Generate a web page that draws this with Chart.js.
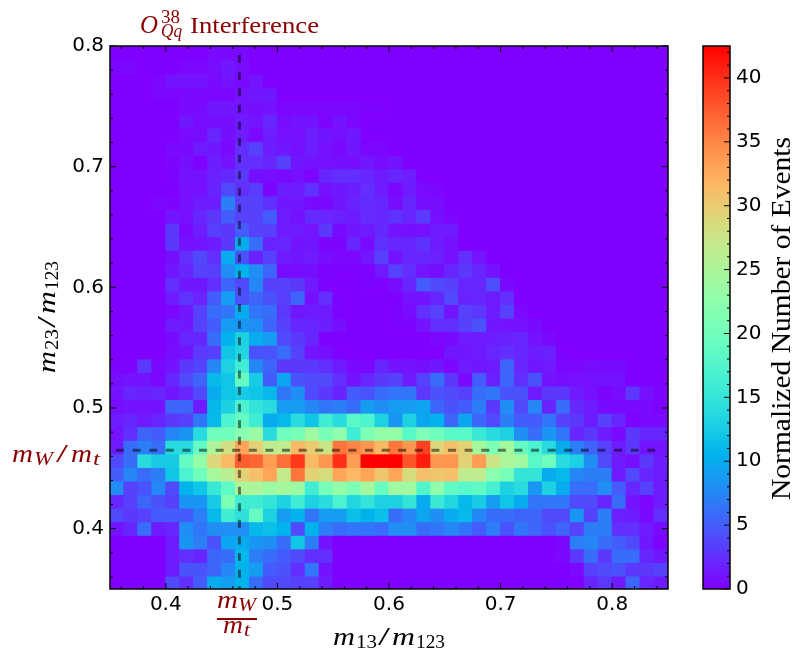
<!DOCTYPE html>
<html>
<head>
<meta charset="utf-8">
<title>Interference</title>
<script src="https://cdn.jsdelivr.net/npm/chart.js@4/dist/chart.umd.min.js"></script>
<style>
  body { margin: 0; background: #fff; }
  canvas { position: absolute; left: 0; top: 0; }
</style>
</head>
<body>
<canvas id="heat" width="807" height="662"></canvas>
<canvas id="cbar" width="807" height="662"></canvas>
<script>
const xRange = [0.35, 0.85];
const yRange = [0.35, 0.8];
const colorRange = [0, 42.5];

const xTickLabels = [0.4, 0.5, 0.6, 0.7, 0.8];
const yTickLabels = [0.4, 0.5, 0.6, 0.7, 0.8];
const xMinorTicks = [0.36, 0.38, 0.42, 0.44, 0.46, 0.48, 0.52, 0.54, 0.56, 0.58, 0.62, 0.64, 0.66, 0.68, 0.72, 0.74, 0.76, 0.78, 0.82, 0.84];
const yMinorTicks = [0.36, 0.38, 0.42, 0.44, 0.46, 0.48, 0.52, 0.54, 0.56, 0.58, 0.62, 0.64, 0.66, 0.68, 0.72, 0.74, 0.76, 0.78];
const colorTickLabels = [0, 5, 10, 15, 20, 25, 30, 35, 40];
const colorMinorTicks = [1, 2, 3, 4, 6, 7, 8, 9, 11, 12, 13, 14, 16, 17, 18, 19, 21, 22, 23, 24, 26, 27, 28, 29, 31, 32, 33, 34, 36, 37, 38, 39, 41, 42];

const guideX = [0.466, 0.466];
const guideXy = [0.7925, 0.35];
const guideY = [0.465, 0.465];
const guideYx = [0.3554, 0.84];

// event counts per bin, first row is the top of the plot (y = 0.8)
const counts = [
  [0,0,0,0,0,0,0,.5,.5,.5, 0,0,0,0,0,0,0,0,0,0, 0,0,0,0,0,0,0,0,0,0, 0,0,0,0,0,0,0,0,0,0],
  [.3,.3,0,0,0,.3,.3,.7,1.3,.7, 0,0,0,0,0,0,0,0,0,0, 0,0,0,0,0,0,0,0,0,0, 0,0,0,0,0,0,0,0,0,0],
  [0,0,0,.3,1,1,1,.5,1,.5, 1,0,0,0,0,0,0,0,0,0, 0,0,0,0,0,0,0,0,0,0, 0,0,0,0,0,0,0,0,0,0],
  [0,0,0,.3,.3,.5,.3,.3,.3,1, 1.3,1.3,0,0,0,0,0,0,0,0, 0,0,0,0,0,0,0,0,0,0, 0,0,0,0,0,0,0,0,0,0],
  [0,0,0,0,0,.5,.5,1.3,1.3,1, .7,1,.3,.3,.3,.3,.3,.3,.2,.1, 0,0,0,0,0,0,0,0,0,0, 0,0,0,0,0,0,0,0,0,0],
  [0,0,0,0,0,1.2,.6,.8,.8,1.5, 1,2,.7,1,1,.2,1,.3,0,0, 0,0,0,0,0,0,0,0,0,0, 0,0,0,0,0,0,0,0,0,0],
  [0,0,0,0,0,.5,.7,2,.8,1.5, .3,1.6,.9,.9,1.7,1.1,.8,1.3,0,0, 0,0,0,0,0,0,0,0,0,0, 0,0,0,0,0,0,0,0,0,0],
  [0,0,0,0,.4,.5,1.4,1.3,.5,2.5, 3.5,1.5,1.2,.9,1.6,.9,.4,1.2,.3,.3, 0,0,0,0,0,0,0,0,0,0, 0,0,0,0,0,0,0,0,0,0],
  [0,0,0,0,.2,.8,.1,1.6,1,2.5, 2.5,2,3.5,1.2,1,.9,.8,.7,1.2,.7, 1,0,0,0,0,0,0,0,0,0, 0,0,0,0,0,0,0,0,0,0],
  [0,0,0,0,.1,1,.9,1.7,2.2,3, .8,.8,.4,.8,.2,2,2.5,2.5,2,1.5, 2,1.6,0,0,0,0,0,0,0,0, 0,0,0,0,0,0,0,0,0,0],
  [0,0,0,0,0,.9,.9,1.8,4,2.5, 3.2,.2,1.6,1.5,2.6,.9,1.3,1.6,2.5,1.5, .3,1.4,.5,.3,0,0,0,0,0,0, 0,0,0,0,0,0,0,0,0,0],
  [0,0,0,.3,.2,.9,1.5,1.6,7,3.5, 3.5,2.6,1.3,1.3,.6,.4,1.2,1.8,2.3,2, .7,2,.7,.7,0,0,0,0,0,0, 0,0,0,0,0,0,0,0,0,0],
  [0,0,0,0,1,.9,2,3,5,3.5, 3.5,5,1.5,.9,2.3,2,1.7,1.5,2.3,2, 2.7,2,3.2,.8,.2,0,0,0,0,0, 0,0,0,0,0,0,0,0,0,0],
  [0,0,0,0,3,.4,1.6,3.4,3,5, 3.5,3.5,1.4,1.4,1,3,.6,1.2,1.4,2.2, 1,.8,.9,1.5,1.4,0,0,0,0,0, 0,0,0,0,0,0,0,0,0,0],
  [0,0,0,0,3,1,1,1.5,3,10, 6,1.8,2,1.1,1.2,.2,.2,2,.5,2.6, 2,2,2.7,1.5,.9,0,0,0,0,0, 0,0,0,0,0,0,0,0,0,0],
  [0,0,0,0,.8,2.5,4,2.5,10,4.5, 1.7,3.5,1.5,1.2,1.4,.7,.3,.3,1.2,3.5, 1,2,2,1.7,.9,2.5,1,0,0,0, 0,0,0,0,0,0,0,0,0,0],
  [0,0,0,0,1.2,2,3.5,3.4,8,10.5, 8,5.5,.6,.6,.7,.1,.1,.1,.1,1.3, 3.5,2.5,1,.7,2,3,2,1,0,0, 0,0,0,0,0,0,0,0,0,0],
  [0,0,0,0,2.5,1.2,1.2,2.5,5.5,4, 7.5,3.5,3.5,3,1.4,.1,0,0,.1,.1, .7,2,5,4,3.5,2,2,4.2,.5,0, 0,0,0,0,0,0,0,0,0,0],
  [0,0,0,0,1.5,2.8,1.8,5,9,4.5, 5.5,4.5,3.4,5.5,.8,2.5,.1,0,0,0, 0,1,1,2,4,1.8,2,1.5,2.5,0, 0,0,0,0,0,0,0,0,0,0],
  [0,0,0,0,.3,1.2,3.5,6,6.5,10, 6.5,6,3,1.2,1.5,1.5,.1,0,0,0, .1,.6,2.5,3.5,1,3.5,3,1.5,3.5,.4, 0,0,0,0,0,0,0,0,0,0],
  [0,0,0,0,1.5,1.3,3.5,5,9,8.5, 8,5.5,3.5,2,2,1.6,.8,0,0,0, .1,.1,1,2.5,2.5,3.5,4.5,1.2,1,.9, .6,0,0,0,0,0,0,0,0,0],
  [0,0,0,0,.6,2,2,6,10.5,13, 10,9,4,3,2,0,0,0,0,0, 0,0,0,.3,.5,1.4,1.4,1.6,1.7,2, 1,.5,0,0,0,0,0,0,0,0],
  [0,0,0,0,.7,1,3,3.3,12,13.5, 4.5,4.5,6,3.5,1,.8,.1,0,0,0, 0,0,0,0,1.2,1.2,1.5,2,2.5,2, 1.5,1.7,.1,0,0,0,0,0,0,0],
  [.2,.2,3,.5,1,3,3.6,7.5,13,16, 7.5,5.5,3,3,3,2.5,1.5,.4,.3,2, 1,1,.8,1.2,.3,1.5,1.2,1.5,5.5,2, 1.2,1.5,.3,.3,.7,.6,.6,0,0,0],
  [.8,1,1,.3,2,4,5.5,11,12,19, 12.5,5,9.5,4.5,4,4,2.5,1,2,3, 3.5,1.5,3.5,6,3,.5,5,1.7,5.5,2.5, 4.5,1,.7,.9,.9,1,1,0,0,0],
  [1,2,1.7,2,1.2,2,4,10,12,12.5, 12,11,6.5,8,4,3,1.8,5,4.5,6, 6.5,6.5,3,4.5,4,3.5,6,6.5,4.5,4.5, 1.5,3,3,1.5,.9,.2,.7,3,.9,.2],
  [.8,1,1,1,5.5,5.5,1.5,11,13,17, 15,14,9,9,7.5,6.5,7,6,9,8, 9,9,9.5,5.5,4.5,5,7,3,8,4, 7.5,1.8,6,2.2,1.5,.6,.5,.4,.4,.1],
  [1.5,2,1.3,2,3,3.5,6.5,11,17,19, 16,10,11,14,12,16,14,18,17,13, 8.5,13,9.5,10.5,5.5,9.5,5.5,4,7,5, 5,6.5,3.5,3,1.5,3.5,2,.2,.5,.5],
  [1,2.5,5.5,5,7.5,8.5,14,20,20,22, 23.5,14,20,20.5,24,20.5,22.5,16,21,23, 23,18,21,20,18,18,15.5,14,13,8, 6,8.5,6.5,2,3,1.5,.5,3,2,2],
  [1.5,6,7,6,14,14,19,25,28,33, 29.5,26.5,26.5,31.5,30,27.5,36,35,34,31.5, 36,34,39,29,31,29.5,24.5,21,24.5,19, 17,14,10,7,5.5,3.5,1.5,3,1,1],
  [4,6,14,12.5,12.5,19,23,29,31.5,37.5, 37,33.5,36.5,39.5,31.5,34,40,33.5,42.5,42.5, 42.5,38,41,34,34,29.5,33.5,27.5,25,24, 18,20,14,13,8,4,1.5,.8,3,1.5],
  [5,7.5,6,7,12,17,20,24.5,26,29.5, 31,33,27,36,29.5,28.5,33,31.5,33,30.5, 33,28.5,31,30.5,31,26.5,26.5,22,20.5,15, 15,10,11,7.5,7,7,1.5,4,2,1.5],
  [8,3.5,4.5,7.5,4,10.5,12,15.5,18.5,25, 25,23.5,24.5,23.5,16,20.5,23,21,24.5,19.5, 24,24,17.5,22.5,18.5,18,18.5,16.5,13,14, 8.5,13,10,6,6,8,5,2,3.5,1.5],
  [2,3.5,5.5,4.5,3.5,8.5,8.5,12.5,21,16, 16,15,13,16,13,14,17,13.5,15,13, 13,15,10,15.5,13.5,11,12.5,9,12,10, 6.5,6.5,6.5,4,4,2,6,1,.3,1.5],
  [4,3,3.5,5,5,5,7,11,16,14.5, 19,13,9,10.5,6.5,9,9,11.5,10.5,11.5, 6,7.5,9.5,8,10,11,7.5,6,6,5.5, 5.5,4,4,8.5,3.5,7,1.7,1.5,.5,2.5],
  [1,2,6,1.5,2,8,6.5,8,8,8, 11,11.5,10.5,4,10.5,7,6,6.5,6.5,6, 8,8,6,6.5,7.5,6.5,5,7,4.5,6.5, 5.5,4.5,5.5,3.5,7,7,2.5,2.5,1.5,.5],
  [0,0,0,0,1.5,8.5,7,4.5,9.5,10, 8.5,8,6,12,7,1,0,0,0,0, 0,0,0,0,0,0,0,0,0,0, 0,0,.3,7,7.5,6,5,4,1.3,.1],
  [0,0,0,0,1.5,2.5,2,5.5,6,11, 7,6,5,4,2.5,2.5,0,0,0,0, 0,0,0,0,0,0,0,0,0,0, 0,0,.4,3,6,3,6,6,2,1.3],
  [0,0,0,0,1.5,4.5,4.5,5.5,7.5,10.5, 9,5,4.5,2.5,6.5,1,0,0,0,0, 0,0,0,0,0,0,0,0,0,0, 0,0,0,.4,3.5,4,4.5,3,3,3.5],
  [0,0,0,0,4,2.5,5,10,9,10.5, 6,4,4,3.5,3.5,1.5,0,0,0,0, 0,0,0,0,0,0,0,0,0,0, 0,0,0,0,2,3,1.5,5.5,2,1.5]
];

const darkRed = "#8b0000";
const tickFont = { family: "DejaVu Sans", size: 20 };

// same curve as the matplotlib rainbow map
function rainbow(t) {
  const r = Math.min(1, Math.abs(2 * t - 0.5));
  const g = Math.sin(Math.PI * t);
  const b = Math.cos(Math.PI * t / 2);
  return `rgb(${Math.round(r * 255)},${Math.round(g * 255)},${Math.round(b * 255)})`;
}

function cellColor(v) {
  return rainbow(v / colorRange[1]);
}

function buildCellDatasets() {
  const rows = counts.length;
  const cols = counts[0].length;
  const xStep = (xRange[1] - xRange[0]) / cols;
  const yStep = (yRange[1] - yRange[0]) / rows;
  return counts.map((row, i) => {
    const hi = yRange[1] - i * yStep;
    return {
      type: "bar",
      order: 2,
      // a bit of overlap so no seams show between neighbouring cells
      data: row.map((v, j) => ({ x: xRange[0] + (j + 0.5) * xStep, y: [hi - yStep * 1.08, hi] })),
      backgroundColor: row.map(cellColor),
      borderWidth: 0,
      barPercentage: 1.08,
      categoryPercentage: 1
    };
  });
}

function guideLine(xs, ys) {
  return {
    type: "line",
    order: 1,
    data: xs.map((x, i) => ({ x: x, y: ys[i] })),
    borderColor: "rgba(0,0,0,0.5)",
    borderWidth: 3,
    borderDash: [8, 8.6],
    pointRadius: 0,
    fill: false
  };
}

function drawTicks(ctx, scale, values, len) {
  const area = scale.chart.chartArea;
  ctx.beginPath();
  values.forEach(v => {
    const p = scale.getPixelForValue(v);
    if (scale.axis === "x") {
      ctx.moveTo(p, area.bottom); ctx.lineTo(p, area.bottom - len);
      ctx.moveTo(p, area.top); ctx.lineTo(p, area.top + len);
    } else {
      ctx.moveTo(area.left, p); ctx.lineTo(area.left + len, p);
      ctx.moveTo(area.right, p); ctx.lineTo(area.right - len, p);
    }
  });
  ctx.stroke();
}

function drawFrame(chart) {
  const ctx = chart.ctx;
  const a = chart.chartArea;
  ctx.save();
  ctx.strokeStyle = "#000";
  ctx.lineWidth = 1.5;
  ctx.strokeRect(a.left, a.top, a.right - a.left, a.bottom - a.top);
  ctx.restore();
}

// one run of text squeezed to the width it has in the reference
function piece(ctx, text, x, y, font, width) {
  ctx.save();
  ctx.font = font;
  const w = ctx.measureText(text).width;
  ctx.translate(x, y);
  ctx.scale(width / w, 1);
  ctx.fillText(text, 0, 0);
  ctx.restore();
}

const mathFont = 'italic 26px "Liberation Serif"';
const mathSub = '18px "Liberation Serif"';
const mathSubIt = 'italic 18px "Liberation Serif"';

function drawRatioLabel(ctx, a, b) {
  piece(ctx, "m", 0, 0, mathFont, 22);
  piece(ctx, a, 23, 3, mathSub, 21);
  piece(ctx, "/", 45, 0, '26px "Liberation Serif"', 12);
  piece(ctx, "m", 59, 0, mathFont, 23);
  piece(ctx, b, 83, 3, mathSub, 29);
}

const heatLabels = {
  id: "heatLabels",
  beforeDatasetsDraw(chart) {
    const a = chart.chartArea;
    chart.ctx.save();
    chart.ctx.fillStyle = cellColor(0);
    chart.ctx.fillRect(a.left, a.top, a.right - a.left, a.bottom - a.top);
    chart.ctx.restore();
  },
  afterDatasetsDraw(chart) {
    const ctx = chart.ctx;
    ctx.save();
    ctx.strokeStyle = "#000";
    ctx.lineWidth = 1;
    drawTicks(ctx, chart.scales.x, xTickLabels, 6);
    drawTicks(ctx, chart.scales.x, xMinorTicks, 3);
    drawTicks(ctx, chart.scales.y, yTickLabels, 6);
    drawTicks(ctx, chart.scales.y, yMinorTicks, 3);
    ctx.restore();
    drawFrame(chart);

    ctx.save();
    ctx.textBaseline = "alphabetic";
    ctx.fillStyle = "#000";
    ctx.save();
    ctx.translate(333, 645);
    drawRatioLabel(ctx, "13", "123");
    ctx.restore();
    ctx.save();
    ctx.translate(55, 373);
    ctx.rotate(-Math.PI / 2);
    drawRatioLabel(ctx, "23", "123");
    ctx.restore();

    ctx.fillStyle = darkRed;
    // title
    piece(ctx, "O", 140, 33, 'italic 26px "Liberation Serif"', 18);
    piece(ctx, "38", 161, 23, mathSub, 19);
    piece(ctx, "Qq", 161, 37, mathSubIt, 21);
    piece(ctx, "Interference", 190, 33, '24px "Liberation Serif"', 129);
    // left marker
    piece(ctx, "m", 12, 462, mathFont, 21);
    piece(ctx, "W", 34, 465, mathSubIt, 19);
    piece(ctx, "/", 56, 462, '26px "Liberation Serif"', 12);
    piece(ctx, "m", 71, 462, mathFont, 21);
    piece(ctx, "t", 93, 465, mathSubIt, 7);
    // bottom marker
    piece(ctx, "m", 217, 608, mathFont, 21);
    piece(ctx, "W", 238, 611, mathSubIt, 18);
    ctx.fillRect(217, 618, 40, 2);
    piece(ctx, "m", 223, 633, mathFont, 20);
    piece(ctx, "t", 244, 636, mathSubIt, 6);
    ctx.restore();
  }
};

new Chart(document.getElementById("heat"), {
  data: {
    datasets: [
      guideLine(guideX, guideXy),
      guideLine(guideYx, guideY),
      ...buildCellDatasets()
    ]
  },
  plugins: [heatLabels],
  options: {
    responsive: false,
    animation: false,
    events: [],
    layout: { padding: { left: 0, top: 46, right: 139, bottom: 0 } },
    plugins: { legend: { display: false }, tooltip: { enabled: false }, title: { display: false } },
    scales: {
      x: {
        type: "linear",
        stacked: true,
        offset: false,
        min: xRange[0],
        max: xRange[1],
        grid: { display: false, drawTicks: false },
        border: { display: false },
        afterBuildTicks: s => { s.ticks = xTickLabels.map(v => ({ value: v })); },
        afterFit: s => { s.height = 73; },
        ticks: {
          font: tickFont, color: "#000", padding: 4, maxRotation: 0, autoSkip: false,
          callback: v => v.toFixed(1)
        }
      },
      y: {
        type: "linear",
        min: yRange[0],
        max: yRange[1],
        grid: { display: false, drawTicks: false },
        border: { display: false },
        afterBuildTicks: s => { s.ticks = yTickLabels.map(v => ({ value: v })); },
        afterFit: s => { s.width = 110; },
        ticks: {
          font: tickFont, color: "#000", padding: 6, autoSkip: false,
          callback: v => v.toFixed(1)
        }
      }
    }
  }
});

const cbarLabels = {
  id: "cbarLabels",
  afterDatasetsDraw(chart) {
    const ctx = chart.ctx;
    const a = chart.chartArea;
    const s = chart.scales.y;
    ctx.save();
    ctx.strokeStyle = "#000";
    ctx.lineWidth = 1;
    ctx.beginPath();
    colorTickLabels.forEach(v => {
      const p = s.getPixelForValue(v);
      ctx.moveTo(a.right, p); ctx.lineTo(a.right - 6, p);
    });
    colorMinorTicks.forEach(v => {
      const p = s.getPixelForValue(v);
      ctx.moveTo(a.right, p); ctx.lineTo(a.right - 3, p);
    });
    ctx.stroke();
    ctx.restore();
    drawFrame(chart);

    ctx.save();
    ctx.fillStyle = "#000";
    ctx.translate(790, 500);
    ctx.rotate(-Math.PI / 2);
    piece(ctx, "Normalized Number of Events", 0, 0, '28px "Liberation Serif"', 363);
    ctx.restore();
  }
};

function colorbarFill(context) {
  const chart = context.chart;
  const a = chart.chartArea;
  if (!a) return "#8000ff";
  const s = chart.scales.y;
  const grad = chart.ctx.createLinearGradient(0, s.getPixelForValue(colorRange[0]), 0, s.getPixelForValue(colorRange[1]));
  for (let i = 0; i <= 64; i++) grad.addColorStop(i / 64, rainbow(i / 64));
  return grad;
}

new Chart(document.getElementById("cbar"), {
  type: "bar",
  data: {
    labels: ["Events"],
    datasets: [{
      data: [colorRange],
      backgroundColor: colorbarFill,
      barPercentage: 1,
      categoryPercentage: 1
    }]
  },
  plugins: [cbarLabels],
  options: {
    responsive: false,
    animation: false,
    events: [],
    layout: { padding: { left: 703, top: 46, right: 0, bottom: 73 } },
    plugins: { legend: { display: false }, tooltip: { enabled: false } },
    scales: {
      x: { display: false },
      y: {
        position: "right",
        min: colorRange[0],
        max: colorRange[1],
        grid: { display: false, drawTicks: false },
        border: { display: false },
        afterBuildTicks: s => { s.ticks = colorTickLabels.map(v => ({ value: v })); },
        afterFit: s => { s.width = 77; },
        ticks: { font: tickFont, color: "#000", padding: 6, autoSkip: false }
      }
    }
  }
});
</script>
</body>
</html>
